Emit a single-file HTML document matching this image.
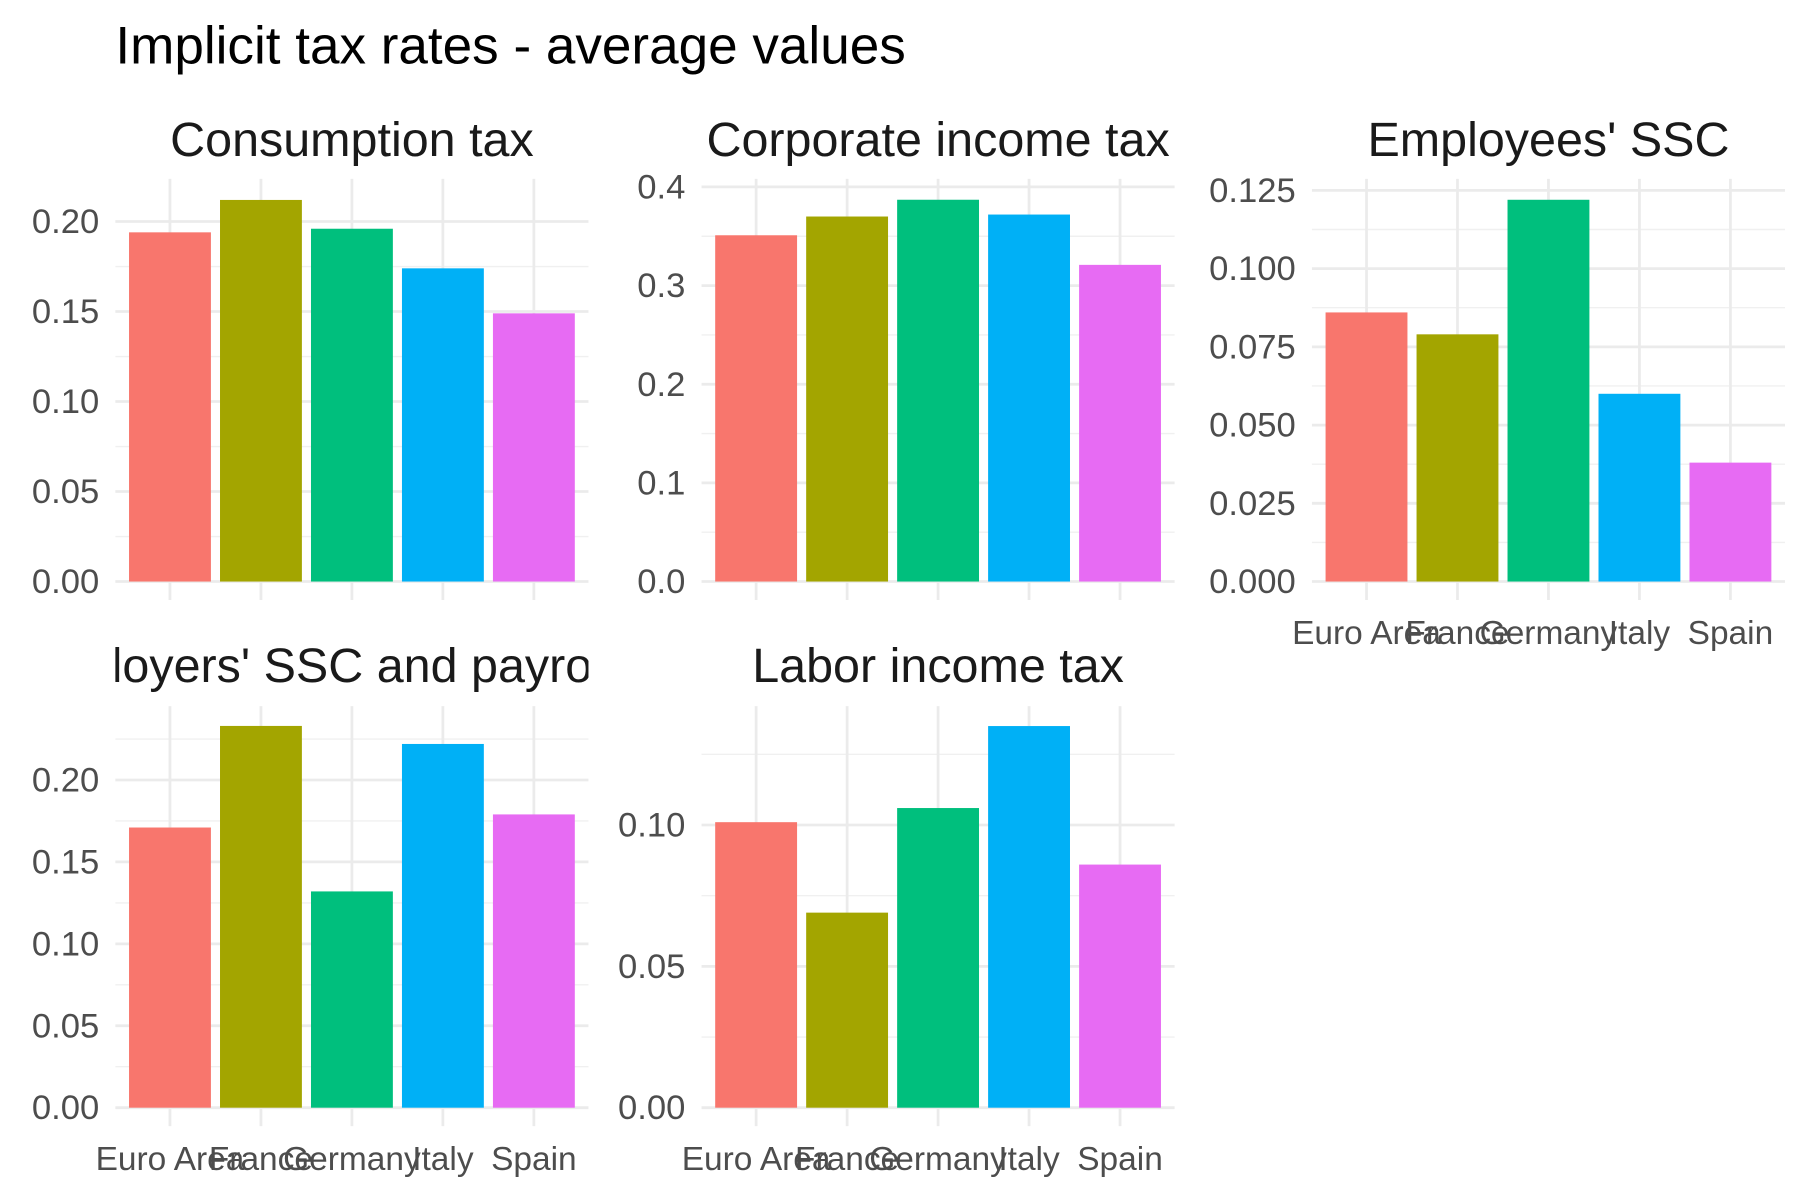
<!DOCTYPE html>
<html><head><meta charset="utf-8"><style>
html,body{margin:0;padding:0;background:#fff;}
svg{display:block;font-family:"Liberation Sans",Arial,sans-serif;}
</style></head><body>
<svg id="chart" width="1800" height="1200" viewBox="0 0 1560 1040" xmlns="http://www.w3.org/2000/svg">
<rect width="1560" height="1040" fill="#fff"/>
<text x="100" y="55" font-size="46" fill="#000">Implicit tax rates - average values</text>
<defs><clipPath id="clip4"><rect x="100" y="540" width="410" height="70"/></clipPath></defs>
</svg>
<script>
const categories = ["Euro Area","France","Germany","Italy","Spain"];
const colors = ["#F8766D","#A3A500","#00BF7D","#00B0F6","#E76BF3"];
const panelTitles = ["Consumption tax","Corporate income tax","Employees' SSC","Employers' SSC and payroll tax","Labor income tax"];
const consumptionValues = [0.194,0.212,0.196,0.174,0.149];
const corporateValues = [0.351,0.370,0.387,0.372,0.321];
const employeesValues = [0.086,0.079,0.122,0.060,0.038];
const employersValues = [0.171,0.233,0.132,0.222,0.179];
const laborValues = [0.101,0.069,0.106,0.135,0.086];
const consumptionTicks = [0,0.05,0.10,0.15,0.20];
const corporateTicks = [0,0.1,0.2,0.3,0.4];
const employeesTicks = [0,0.025,0.05,0.075,0.1,0.125];
const employersTicks = [0,0.05,0.10,0.15,0.20];
const laborTicks = [0,0.05,0.10];
const tickDigits = [2,1,3,2,2];

const svg = document.getElementById('chart');
const NS = "http://www.w3.org/2000/svg";
function mk(tag, attrs, parent){const e=document.createElementNS(NS,tag);for(const k in attrs)e.setAttribute(k,attrs[k]);(parent||svg).appendChild(e);return e;}

const panels = [
 {vals:consumptionValues,ticks:consumptionTicks,x0:100,x1:510,top:155,zero:504,dmax:0.20,dpix:312,showX:false,ty:121},
 {vals:corporateValues,ticks:corporateTicks,x0:608,x1:1018,top:155,zero:504,dmax:0.4,dpix:342,showX:false,ty:121},
 {vals:employeesValues,ticks:employeesTicks,x0:1137,x1:1547,top:155,zero:504,dmax:0.125,dpix:339,showX:true,ty:121},
 {vals:employersValues,ticks:employersTicks,x0:100,x1:510,top:612,zero:960,dmax:0.20,dpix:284,showX:true,ty:577},
 {vals:laborValues,ticks:laborTicks,x0:608,x1:1018,top:612,zero:960,dmax:0.10,dpix:245,showX:true,ty:577}
];

panels.forEach((p,pi)=>{
  const g = mk('g',{});
  
  
  const band = (p.x1-p.x0)/5.2;
  const xS = i => p.x0 + (i+0.6)*band;
  const yS = v => p.zero - v/p.dmax*p.dpix;
  for(let k=0;k<p.ticks.length;k++){
    const step = p.ticks[1]-p.ticks[0];
    const mv = p.ticks[k]+step/2;
    if(yS(mv)>=p.top){const l=mk('line',{x1:p.x0,x2:p.x1,y1:yS(mv),y2:yS(mv),stroke:'#f0f0f0','stroke-width':1.2},g);
      }
  }
  p.ticks.forEach(t=>{
    const y=yS(t);
    const l=mk('line',{x1:p.x0,x2:p.x1,y1:y,y2:y,stroke:'#ebebeb','stroke-width':2.4},g);
    
    
    const tx=mk('text',{x:p.x0-14,y:y+10,'font-size':30,fill:'#4d4d4d','text-anchor':'end'},g);
    
    
    tx.textContent=t.toFixed(tickDigits[pi]);
  });
  categories.forEach((c,i)=>{
    const x=xS(i);
    const vl=mk('line',{x1:x,x2:x,y1:p.top,y2:p.zero,stroke:'#ebebeb','stroke-width':2.4},g);
    
    
    const tk=mk('line',{x1:x,x2:x,y1:p.zero,y2:p.zero+16,stroke:'#ebebeb','stroke-width':2.4},g);
    
    
  });
  categories.forEach((c,i)=>{
    const w=band*0.9, v=p.vals[i];
    const r=mk('rect',{x:xS(i)-w/2,y:yS(v),width:w,height:p.zero-yS(v),fill:colors[i]},g);
    
    
    if(p.showX){
      const t=mk('text',{x:xS(i),y:p.zero+54,'font-size':29,fill:'#4d4d4d','text-anchor':'middle'},g);
      
      
      t.textContent=c;
    }
  });
  const attrs={x:(p.x0+p.x1)/2,y:p.ty+14,'font-size':42,fill:'#1a1a1a','text-anchor':'middle'};
  if(pi===3) attrs['clip-path']='url(#clip4)';
  const tt=mk('text',attrs,g);
  
  
  tt.textContent=panelTitles[pi];
});
</script>
</body></html>
